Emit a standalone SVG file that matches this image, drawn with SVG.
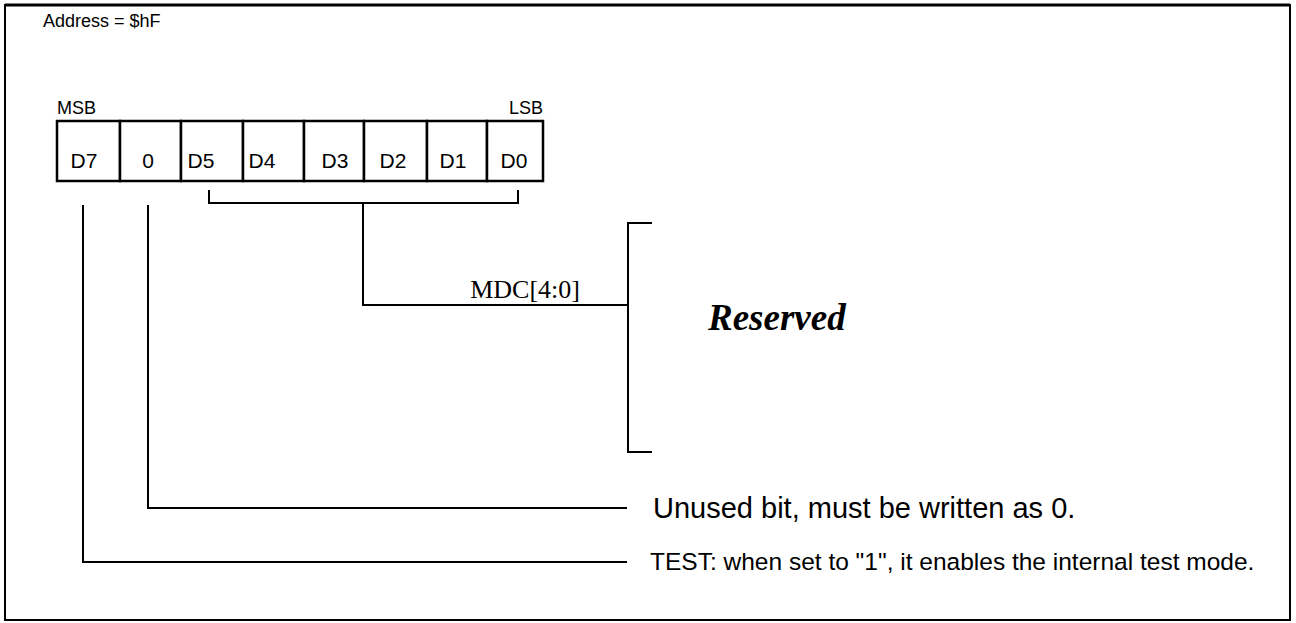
<svg xmlns="http://www.w3.org/2000/svg" width="1296" height="623" viewBox="0 0 1296 623">
<style>
.s{font-family:"Liberation Sans",Arial,sans-serif;fill:#000}
.t{font-family:"Liberation Serif","Times New Roman",serif;fill:#000}
.ln{fill:none;stroke:#000;stroke-width:2}
.cell{fill:#fff;stroke:#000;stroke-width:2.5}
</style>
<rect width="1296" height="623" fill="#fff"/>
<rect x="5" y="5" width="1285" height="615" fill="none" stroke="#000" stroke-width="2"/>
<line x1="5" y1="5" x2="1290" y2="5" stroke="#000" stroke-width="3"/>
<text class="s" x="43" y="27" font-size="18">Address = $hF</text>
<g id="register">
<text class="s" x="57" y="114" font-size="18">MSB</text>
<text class="s" x="543" y="114" font-size="18" text-anchor="end">LSB</text>
<g id="bit7"><rect class="cell" x="57" y="121" width="63" height="60"/><text class="s" x="84" y="168" font-size="21" text-anchor="middle">D7</text></g>
<g id="bit6"><rect class="cell" x="120" y="121" width="61" height="60"/><text class="s" x="148" y="168" font-size="21" text-anchor="middle">0</text></g>
<g id="bit5"><rect class="cell" x="181" y="121" width="62" height="60"/><text class="s" x="201" y="168" font-size="21" text-anchor="middle">D5</text></g>
<g id="bit4"><rect class="cell" x="243" y="121" width="61" height="60"/><text class="s" x="262" y="168" font-size="21" text-anchor="middle">D4</text></g>
<g id="bit3"><rect class="cell" x="304" y="121" width="60" height="60"/><text class="s" x="335" y="168" font-size="21" text-anchor="middle">D3</text></g>
<g id="bit2"><rect class="cell" x="364" y="121" width="63" height="60"/><text class="s" x="393" y="168" font-size="21" text-anchor="middle">D2</text></g>
<g id="bit1"><rect class="cell" x="427" y="121" width="60" height="60"/><text class="s" x="453" y="168" font-size="21" text-anchor="middle">D1</text></g>
<g id="bit0"><rect class="cell" x="487" y="121" width="56" height="60"/><text class="s" x="514" y="168" font-size="21" text-anchor="middle">D0</text></g>
</g>
<g id="connectors">
<path class="ln" d="M209,190 V203 H518 V190"/>
<path class="ln" d="M363,203 V305 H628"/>
<path class="ln" d="M652,223 H628 V452 H652"/>
<path class="ln" d="M148,205 V508 H627"/>
<path class="ln" d="M83,205 V562 H627"/>
</g>
<g id="labels">
<text class="t" x="580" y="298" font-size="26" text-anchor="end">MDC[4:0]</text>
<text class="t" x="708" y="330" font-size="37" font-weight="bold" font-style="italic">Reserved</text>
<text class="s" x="653" y="518" font-size="29">Unused bit, must be written as 0.</text>
<text class="s" x="650" y="570" font-size="24.5">TEST: when set to "1", it enables the internal test mode.</text>
</g>
</svg>
